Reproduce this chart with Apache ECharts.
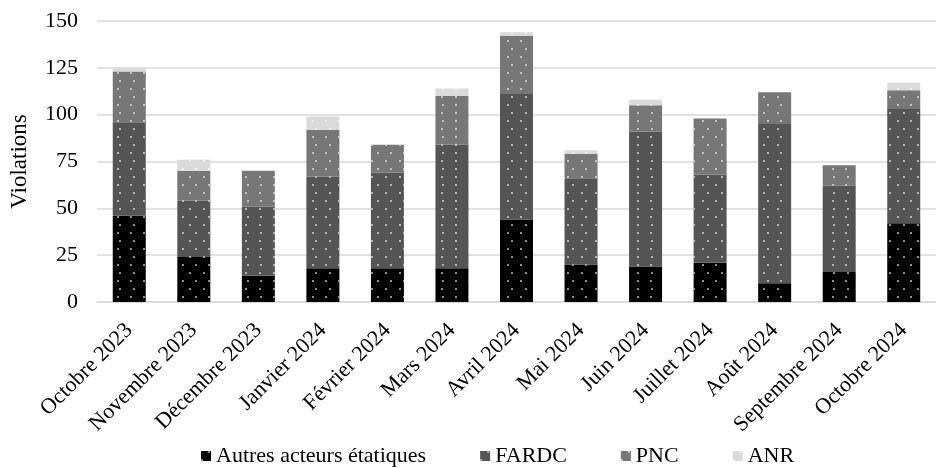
<!DOCTYPE html>
<html>
<head>
<meta charset="utf-8">
<script src="https://cdn.jsdelivr.net/npm/echarts@6/dist/echarts.min.js"></script>
<style>
html,body{margin:0;padding:0;background:#fff;}
#chart{width:936px;height:468px;}
</style>
</head>
<body>
<div id="chart"></div>
<script>
const categories = ["Octobre 2023","Novembre 2023","Décembre 2023","Janvier 2024","Février 2024","Mars 2024","Avril 2024","Mai 2024","Juin 2024","Juillet 2024","Août 2024","Septembre 2024","Octobre 2024"];
const autres = [46,24,14,18,18,18,44,20,19,21,10,16,42];
const fardc  = [50,30,37,49,51,66,67,46,72,47,85,46,61];
const pnc    = [27,16,19,25,15,26,31,13,14,30,17,11,10];
const anr    = [2,6,0,7,0,4,2,2,3,0,0,0,4];
const seriesNames = ["Autres acteurs étatiques","FARDC","PNC","ANR"];
const yTicks = [0,25,50,75,100,125,150];

const FONT = "Liberation Serif";
const decal = {
  symbol: 'circle',
  symbolSize: 1,
  color: 'rgba(255,255,255,0.75)',
  dashArrayX: [[1.6, 10.9], [0, 6.25, 1.6, 4.65]],
  dashArrayY: [1.6, 5.1],
  rotation: 0
};
const colors = ['#000000', '#555555', '#777777', '#dadada'];
const dataSets = [autres, fardc, pnc, anr];

const chart = echarts.init(document.getElementById('chart'), null, {renderer: 'canvas'});
chart.setOption({
  animation: false,
  backgroundColor: '#ffffff',
  textStyle: {fontFamily: FONT, color: '#000'},
  grid: {left: 94, top: 21, width: 853, height: 281, containLabel: false},
  legend: {
    left: 196, top: 440,
    itemGap: 54, itemWidth: 10, itemHeight: 10,
    icon: 'rect',
    textStyle: {fontFamily: FONT, fontSize: 22, color: '#000'},
    data: seriesNames
  },
  xAxis: {
    type: 'category',
    data: categories,
    axisLine: {lineStyle: {color: '#d9d9d9', width: 1.5}},
    axisTick: {show: false},
    axisLabel: {rotate: 45, interval: 0, margin: 25, fontFamily: FONT, fontSize: 22, color: '#000'}
  },
  yAxis: {
    type: 'value',
    min: yTicks[0], max: yTicks[yTicks.length - 1], interval: 25,
    name: 'Violations',
    nameLocation: 'middle',
    nameGap: 66,
    nameTextStyle: {fontFamily: FONT, fontSize: 23, color: '#000'},
    axisLine: {show: false},
    axisTick: {show: false},
    axisLabel: {margin: 19, fontFamily: FONT, fontSize: 22, color: '#000'},
    splitLine: {lineStyle: {color: '#d9d9d9', width: 1.5}}
  },
  series: dataSets.map((d, i) => ({
    name: seriesNames[i],
    type: 'bar',
    stack: 'total',
    barWidth: 33,
    data: d,
    itemStyle: {color: colors[i], decal: decal}
  }))
});
</script>
</body>
</html>
